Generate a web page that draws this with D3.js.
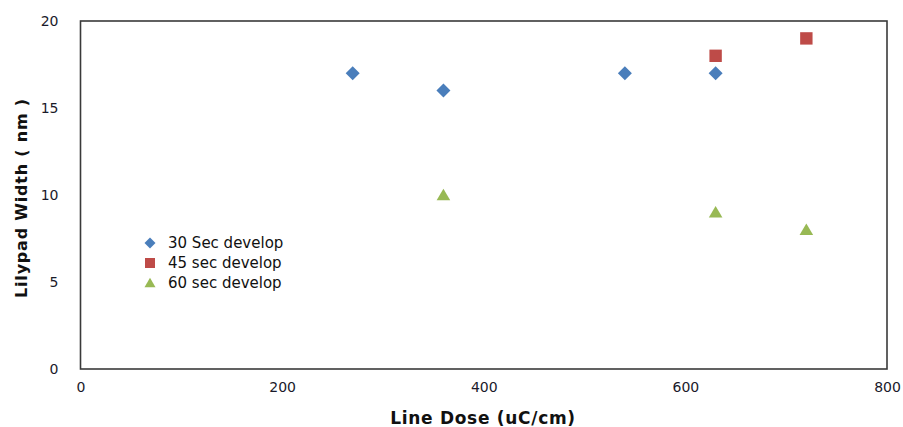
<!DOCTYPE html>
<html>
<head>
<meta charset="utf-8">
<script src="https://cdn.jsdelivr.net/npm/d3@7"></script>
<style>
  html, body { margin: 0; padding: 0; background: #fff; }
  svg { display: block; }
</style>
</head>
<body>
<svg id="chart" width="903" height="427"></svg>
<script>
// Lilypad width versus line dose for three develop times
const seriesNames = ["30 Sec develop", "45 sec develop", "60 sec develop"];
const seriesColors = ["#4a7ebb", "#be4b48", "#98b954"];
const seriesShapes = ["diamond", "square", "triangle"];

const dose30 = [270, 360, 540, 630];
const width30 = [17, 16, 17, 17];
const dose45 = [630, 720];
const width45 = [18, 19];
const dose60 = [360, 630, 720];
const width60 = [10, 9, 8];

const xTicks = [0, 200, 400, 600, 800];
const yTicks = [0, 5, 10, 15, 20];

const series = [
  { xs: dose30, ys: width30 },
  { xs: dose45, ys: width45 },
  { xs: dose60, ys: width60 }
];

const svg = d3.select("#chart");
const m = { left: 80.5, right: 887, top: 21, bottom: 369 };

const x = d3.scaleLinear().domain([0, 800]).range([m.left, m.right]);
const y = d3.scaleLinear().domain([0, 20]).range([m.bottom, m.top]);

const font = "'DejaVu Sans', Verdana, sans-serif";

// Plot frame
svg.append("rect")
  .attr("x", m.left).attr("y", m.top)
  .attr("width", m.right - m.left).attr("height", m.bottom - m.top)
  .attr("fill", "none").attr("stroke", "#3a3a3a").attr("stroke-width", 1.6);

// Axes (labels only, no tick marks)
const xAxis = svg.append("g")
  .attr("transform", `translate(0,${m.bottom})`)
  .call(d3.axisBottom(x).tickValues(xTicks).tickSize(0).tickPadding(13).tickFormat(d3.format("d")));
const yAxis = svg.append("g")
  .attr("transform", `translate(${m.left},0)`)
  .call(d3.axisLeft(y).tickValues(yTicks).tickSize(0).tickPadding(22).tickFormat(d3.format("d")));

[xAxis, yAxis].forEach(g => {
  g.select(".domain").remove();
  g.selectAll("text")
    .attr("font-family", font).attr("font-size", 14)
    .attr("fill", "#1a1a2a");
});

// Axis titles
svg.append("text")
  .attr("x", 483).attr("y", 424)
  .attr("text-anchor", "middle")
  .attr("font-family", font).attr("font-size", 17).attr("font-weight", "bold")
  .attr("letter-spacing", 0.7)
  .attr("fill", "#111")
  .text("Line Dose (uC/cm)");

svg.append("text")
  .attr("transform", "translate(27,198) rotate(-90)")
  .attr("text-anchor", "middle")
  .attr("font-family", font).attr("font-size", 16).attr("font-weight", "bold")
  .attr("letter-spacing", 0.8)
  .attr("fill", "#111")
  .text("Lilypad Width ( nm )");

// Marker path generator
function markerPath(shape, s) {
  if (shape === "diamond") return `M0,${-s}L${s},0L0,${s}L${-s},0Z`;
  if (shape === "square") return `M${-s},${-s}H${s}V${s}H${-s}Z`;
  const h = s * 1.7;
  return `M0,${-h * 0.55}L${s},${h * 0.45}L${-s},${h * 0.45}Z`;
}

const markerSize = [7, 6.2, 6.8];

series.forEach((sr, i) => {
  const pts = sr.xs.map((d, j) => [d, sr.ys[j]]);
  svg.append("g").selectAll("path")
    .data(pts)
    .join("path")
    .attr("transform", d => `translate(${x(d[0])},${y(d[1])})`)
    .attr("d", markerPath(seriesShapes[i], markerSize[i]))
    .attr("fill", seriesColors[i]);
});

// Legend
const legend = svg.append("g").attr("transform", "translate(150,243)");
const legendSize = [5.5, 5, 5.5];
seriesNames.forEach((name, i) => {
  const row = legend.append("g").attr("transform", `translate(0,${i * 20})`);
  row.append("path")
    .attr("d", markerPath(seriesShapes[i], legendSize[i]))
    .attr("fill", seriesColors[i]);
  row.append("text")
    .attr("x", 18).attr("y", 0).attr("dy", "0.35em")
    .attr("font-family", font).attr("font-size", 15)
    .attr("fill", "#111")
    .text(name);
});
</script>
</body>
</html>
